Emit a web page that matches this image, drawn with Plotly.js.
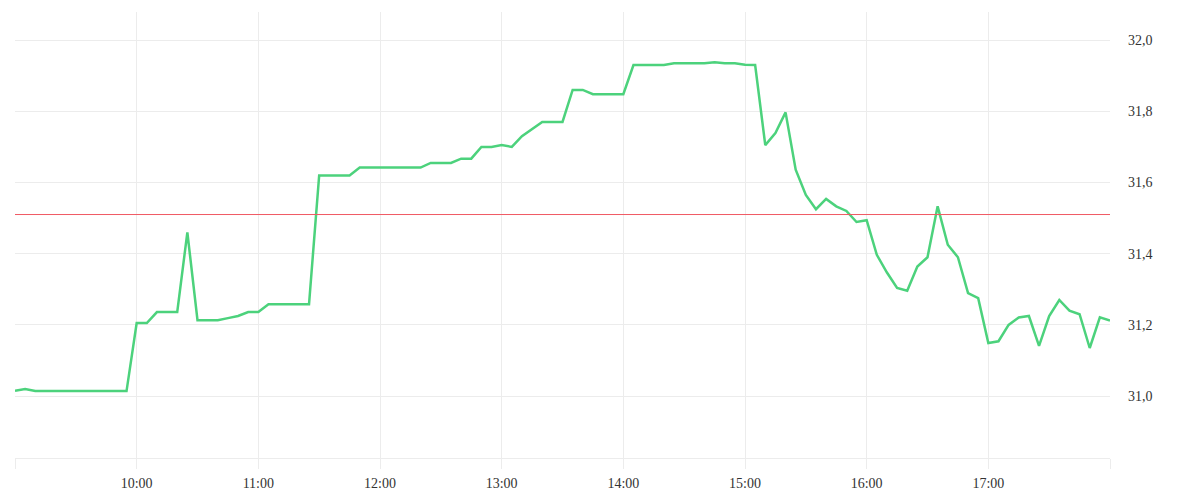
<!DOCTYPE html>
<html>
<head>
<meta charset="utf-8">
<script src="https://cdn.plot.ly/plotly-3.0.1.min.js"></script>
<style>html,body{margin:0;padding:0;background:#fff;}#chart{width:1200px;height:500px;}</style>
</head>
<body>
<div id="chart"></div>
<script>
var day = '2024-01-02 ';
var times = [
'09:00','09:05','09:10','09:15','09:20','09:25','09:30','09:35','09:40','09:45','09:50','09:55',
'10:00','10:05','10:10','10:15','10:20','10:25','10:30','10:35','10:40','10:45','10:50','10:55',
'11:00','11:05','11:10','11:15','11:20','11:25','11:30','11:35','11:40','11:45','11:50','11:55',
'12:00','12:05','12:10','12:15','12:20','12:25','12:30','12:35','12:40','12:45','12:50','12:55',
'13:00','13:05','13:10','13:15','13:20','13:25','13:30','13:35','13:40','13:45','13:50','13:55',
'14:00','14:05','14:10','14:15','14:20','14:25','14:30','14:35','14:40','14:45','14:50','14:55',
'15:00','15:05','15:10','15:15','15:20','15:25','15:30','15:35','15:40','15:45','15:50','15:55',
'16:00','16:05','16:10','16:15','16:20','16:25','16:30','16:35','16:40','16:45','16:50','16:55',
'17:00','17:05','17:10','17:15','17:20','17:25','17:30','17:35','17:40','17:45','17:50','17:55',
'18:00'];
var prices = [
31.015,31.020,31.014,31.014,31.014,31.014,31.014,31.014,31.014,31.014,31.014,31.014,
31.205,31.205,31.236,31.236,31.236,31.460,31.213,31.213,31.213,31.219,31.225,31.236,
31.236,31.258,31.258,31.258,31.258,31.258,31.620,31.620,31.620,31.620,31.642,31.642,
31.642,31.642,31.642,31.642,31.642,31.655,31.655,31.655,31.667,31.667,31.700,31.700,
31.705,31.700,31.730,31.750,31.770,31.770,31.770,31.860,31.860,31.848,31.848,31.848,
31.848,31.930,31.930,31.930,31.930,31.935,31.935,31.935,31.935,31.938,31.935,31.935,
31.931,31.930,31.705,31.739,31.797,31.636,31.565,31.525,31.554,31.533,31.520,31.489,
31.494,31.397,31.347,31.304,31.296,31.364,31.390,31.533,31.425,31.390,31.289,31.275,
31.149,31.154,31.200,31.221,31.225,31.141,31.225,31.270,31.240,31.230,31.135,31.221,
31.212];
var referencePrice = 31.51;
var hourTicks = ['09:00','10:00','11:00','12:00','13:00','14:00','15:00','16:00','17:00','18:00'];
var hourLabels = ['','10:00','11:00','12:00','13:00','14:00','15:00','16:00','17:00',''];
var priceTicks = [31.0,31.2,31.4,31.6,31.8,32.0];
var yRange = [30.826, 32.079];

var xs = times.map(function(t){return day + t;});
var tickX = hourTicks.map(function(t){return day + t;});

var trace = {
  x: xs, y: prices, type: 'scatter', mode: 'lines',
  line: {color: 'rgb(76,210,124)', width: 2.5},
  hoverinfo: 'skip'
};

var tf = {family: 'Liberation Serif, serif', size: 14, color: '#333'};

var layout = {
  width: 1200, height: 500,
  margin: {l: 15, r: 90, t: 12, b: 42},
  paper_bgcolor: '#fff', plot_bgcolor: '#fff',
  separators: ', ',
  showlegend: false,
  font: tf,
  xaxis: {
    type: 'date',
    range: [day + '09:00', day + '18:00'],
    tickmode: 'array', tickvals: tickX, ticktext: hourLabels,
    showgrid: true, gridcolor: '#ececec', gridwidth: 1,
    ticks: 'outside', ticklen: 10, tickcolor: '#ececec', tickwidth: 1,
    ticklabelstandoff: 2,
    showline: true, linecolor: '#ececec', linewidth: 1,
    zeroline: false, fixedrange: true,
    tickfont: tf
  },
  yaxis: {
    side: 'right',
    range: yRange,
    tickmode: 'array', tickvals: priceTicks, tickformat: '.1f',
    showgrid: true, gridcolor: '#ececec', gridwidth: 1,
    ticks: '', ticklabelstandoff: 17,
    showline: false, zeroline: false, fixedrange: true,
    tickfont: tf
  },
  shapes: [{
    type: 'line', xref: 'paper', yref: 'y', x0: 0, x1: 1,
    y0: referencePrice, y1: referencePrice,
    line: {color: 'rgb(240,90,100)', width: 1}
  }]
};

Plotly.newPlot('chart', [trace], layout, {displayModeBar: false, staticPlot: true});
</script>
</body>
</html>
